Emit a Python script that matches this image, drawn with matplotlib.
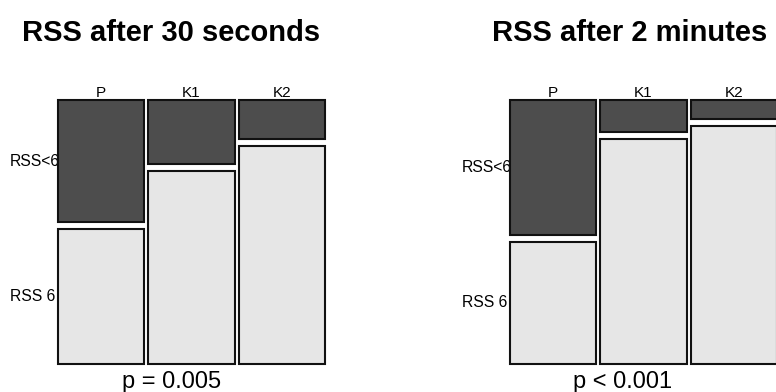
import matplotlib
matplotlib.use("Agg")
import matplotlib.pyplot as plt
from matplotlib.patches import Rectangle

plt.rcParams['font.family'] = ['Liberation Sans', 'DejaVu Sans']

groups = ["P", "K1", "K2"]
rows = ["RSS<6", "RSS 6"]
# counts per group (40 each)
lt6_30s = [19, 10, 6]
ge6_30s = [21, 30, 34]
lt6_2min = [21, 5, 3]
ge6_2min = [19, 35, 37]

dark = "#4d4d4d"
light = "#e6e6e6"
edge = "#111111"


def mosaic(ax, top, bottom):
    totals = [a + b for a, b in zip(top, bottom)]
    gx = 4 / 267
    gy = 7 / 264
    w_avail = 1 - gx * (len(groups) - 1)
    x = 0
    for i, g in enumerate(groups):
        w = w_avail * totals[i] / sum(totals)
        h_top = (1 - gy) * top[i] / totals[i]
        h_bot = (1 - gy) * bottom[i] / totals[i]
        ax.add_patch(Rectangle((x, 1 - h_top), w, h_top, fc=dark, ec=edge,
                               lw=1.5, clip_on=False, zorder=2))
        ax.add_patch(Rectangle((x, 0), w, h_bot, fc=light, ec=edge,
                               lw=1.5, clip_on=False, zorder=2))
        ax.text(x + w / 2, 1.012, g, ha='center', va='baseline', fontsize=11)
        if i == 0:
            ax.text(-48 / 267, 1 - h_top / 2, rows[0], ha='left', va='center',
                    fontsize=11.3, zorder=1)
            ax.text(-48 / 267, h_bot / 2, rows[1], ha='left', va='center',
                    fontsize=11.3, zorder=1)
        x += w + gx
    ax.set_xlim(0, 1)
    ax.set_ylim(0, 1)
    ax.axis('off')


fig = plt.figure(figsize=(7.76, 3.92), dpi=100)
ax1 = fig.add_axes([58 / 776, 28 / 392, 267 / 776, 264 / 392])
ax2 = fig.add_axes([510 / 776, 28 / 392, 267 / 776, 264 / 392])

mosaic(ax1, lt6_30s, ge6_30s)
mosaic(ax2, lt6_2min, ge6_2min)

fig.text(171 / 776, 0.8954, "RSS after 30 seconds", ha='center', va='baseline',
         fontsize=21, fontweight='bold')
fig.text(630 / 776, 0.8954, "RSS after 2 minutes", ha='center', va='baseline',
         fontsize=21, fontweight='bold')
fig.text(172 / 776, 0.0102, "p = 0.005", ha='center', va='baseline', fontsize=17)
fig.text(623 / 776, 0.0102, "p < 0.001", ha='center', va='baseline', fontsize=17)

fig.savefig("out.png", dpi=100, facecolor='white')
